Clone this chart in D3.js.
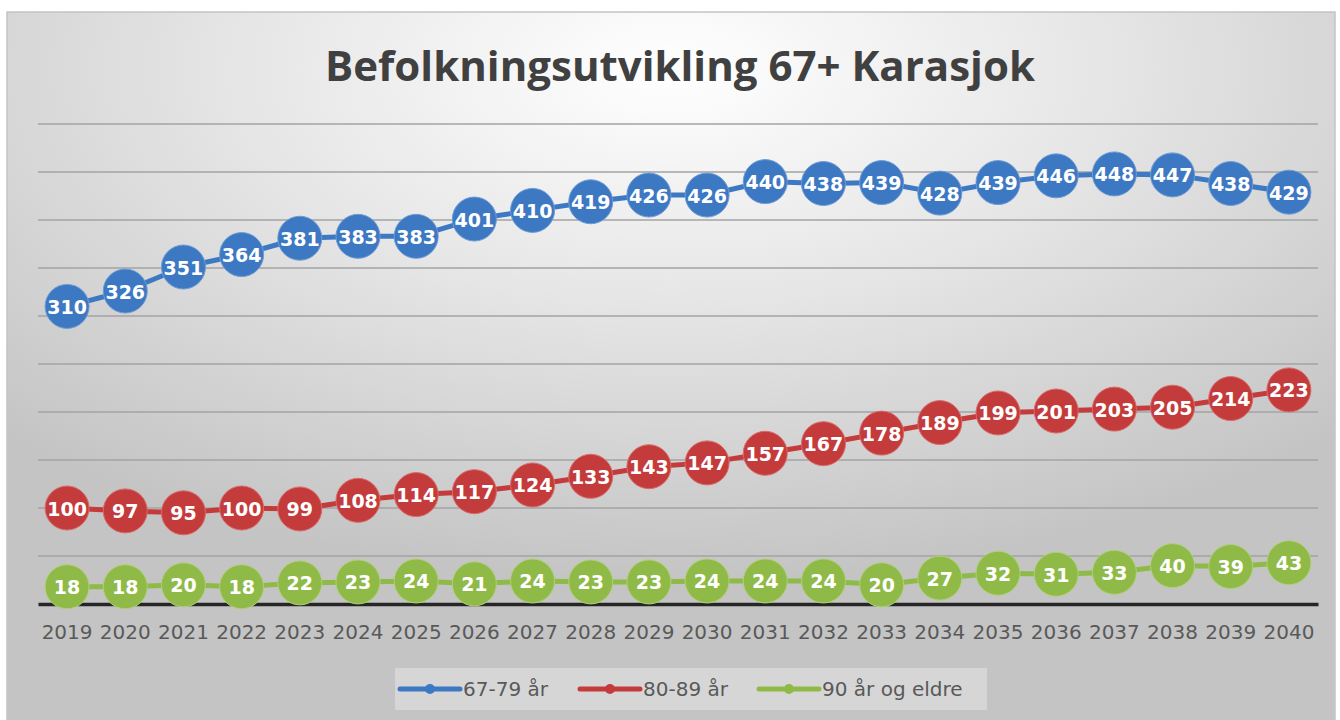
<!DOCTYPE html>
<html>
<head>
<meta charset="utf-8">
<script src="https://cdn.jsdelivr.net/npm/d3@7/dist/d3.min.js"></script>
<style>
html,body{margin:0;padding:0;background:#ffffff;}
svg{display:block;}
</style>
</head>
<body>
<svg id="chart" width="1340" height="720"></svg>
<script>
const title = "Befolkningsutvikling 67+ Karasjok";
const years = ["2019","2020","2021","2022","2023","2024","2025","2026","2027","2028","2029","2030","2031","2032","2033","2034","2035","2036","2037","2038","2039","2040"];
const age6779 = [310,326,351,364,381,383,383,401,410,419,426,426,440,438,439,428,439,446,448,447,438,429];
const age8089 = [100,97,95,100,99,108,114,117,124,133,143,147,157,167,178,189,199,201,203,205,214,223];
const age90 = [18,18,20,18,22,23,24,21,24,23,23,24,24,24,20,27,32,31,33,40,39,43];
const seriesNames = ["67-79 år","80-89 år","90 år og eldre"];
const seriesColors = ["#3d78c3","#c43b3c","#8fba48"];
const seriesStroke = ["#6f9bd6","#d96b6b","#b0d07a"];
const yTicks = [0,50,100,150,200,250,300,350,400,450,500];

const series = [age6779, age8089, age90].map((vals,i)=>({name:seriesNames[i], color:seriesColors[i], stroke:seriesStroke[i], values:vals}));

const svg = d3.select("#chart");
const defs = svg.append("defs");
const grad = defs.append("radialGradient").attr("id","bg")
  .attr("cx","0.5").attr("cy","0.08").attr("r","0.72").attr("fx","0.5").attr("fy","0.08");
grad.append("stop").attr("offset","0").attr("stop-color","#ffffff");
grad.append("stop").attr("offset","0.45").attr("stop-color","#e6e6e6");
grad.append("stop").attr("offset","1").attr("stop-color","#c4c4c4");

svg.append("rect").attr("x",7).attr("y",12).attr("width",1328).attr("height",712)
  .attr("fill","url(#bg)").attr("stroke","#c4c4c4").attr("stroke-width",1.5);

svg.append("text").attr("x",680).attr("y",81).attr("text-anchor","middle")
  .attr("font-family","'Open Sans', sans-serif").attr("font-weight","bold")
  .attr("font-size",41).attr("fill","#404040")
  .attr("textLength",710).attr("lengthAdjust","spacingAndGlyphs")
  .text(title);

const x = d3.scaleBand().domain(years).range([38,1318]);
const y = d3.scaleLinear().domain([0,500]).range([604,124]);
const cx = d => x(d) + x.bandwidth()/2;

// gridlines
const grid = svg.append("g");
grid.selectAll("line").data(yTicks.filter(t=>t>0)).join("line")
  .attr("x1",38).attr("x2",1318).attr("y1",d=>y(d)).attr("y2",d=>y(d))
  .attr("stroke","#a3a3a3").attr("stroke-width",1.7);

// x axis
const xAxis = svg.append("g").attr("transform","translate(0,"+y(0)+")")
  .call(d3.axisBottom(x).tickSize(0).tickPadding(21));
xAxis.select(".domain").attr("stroke","#262626").attr("stroke-width",3.5);
xAxis.selectAll("text").attr("font-family","'DejaVu Sans', sans-serif").attr("font-size",20).attr("fill","#595959");

// lines
const line = d3.line().x((d,i)=>cx(years[i])).y(d=>y(d));
series.forEach(s=>{
  svg.append("path").datum(s.values).attr("d",line)
    .attr("fill","none").attr("stroke",s.color).attr("stroke-width",5).attr("stroke-linejoin","round");
});
series.forEach(s=>{
  const g = svg.append("g");
  g.selectAll("circle").data(s.values).join("circle")
    .attr("cx",(d,i)=>cx(years[i])).attr("cy",d=>y(d)).attr("r",22)
    .attr("fill",s.color).attr("stroke",s.stroke).attr("stroke-width",1);
  g.selectAll("text").data(s.values).join("text")
    .attr("x",(d,i)=>cx(years[i])).attr("y",d=>y(d)+7.5)
    .attr("text-anchor","middle")
    .attr("font-family","'DejaVu Sans', sans-serif").attr("font-weight","bold")
    .attr("font-size",19).attr("fill","#ffffff")
    .text(d=>d);
});

// legend
svg.append("rect").attr("x",395).attr("y",668).attr("width",592).attr("height",42)
  .attr("fill","#ffffff").attr("fill-opacity",0.3);
const legX = [400,580,759];
const leg = svg.append("g");
series.forEach((s,i)=>{
  const g = leg.append("g").attr("transform","translate("+legX[i]+",689)");
  g.append("line").attr("x1",0).attr("x2",60).attr("y1",0).attr("y2",0)
    .attr("stroke",s.color).attr("stroke-width",5).attr("stroke-linecap","round");
  g.append("circle").attr("cx",30).attr("cy",0).attr("r",5).attr("fill",s.color);
  g.append("text").attr("x",63).attr("y",7)
    .attr("font-family","'DejaVu Sans', sans-serif").attr("font-size",20).attr("fill","#595959")
    .text(s.name);
});
</script>
</body>
</html>
